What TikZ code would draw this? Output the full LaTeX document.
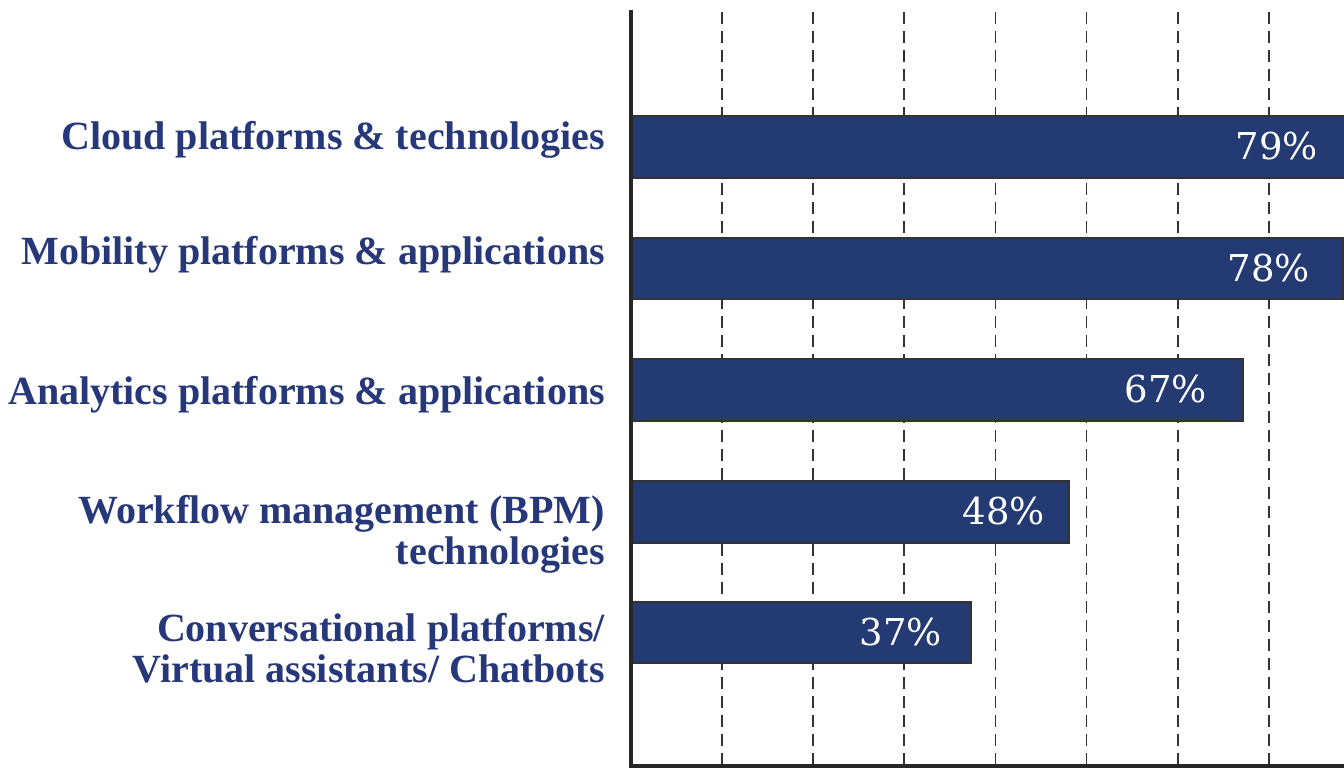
\documentclass[tikz,border=0pt]{standalone}
\usepackage{fontspec}
\setmainfont{Liberation Serif}
\newfontfamily\pctfont{DejaVu Serif}
\begin{document}
\begin{tikzpicture}[x=1pt,y=-1pt,
  barbox/.style={fill=barblue,draw=black!80,line width=1.6pt,inner sep=0pt,anchor=north west},
  catlabel/.style={anchor=east,inner sep=0pt,align=right,text=txtblue,font=\fontsize{40}{41}\selectfont\bfseries},
  pctlabel/.style={anchor=east,inner sep=0pt,text=white,font=\fontsize{37}{38}\pctfont},
  gridline/.style={black!80,line width=1.8pt,dash pattern=on 12pt off 7pt},
  axisline/.style={black!85,line width=4.5pt}]
\definecolor{barblue}{HTML}{243A72}
\definecolor{txtblue}{HTML}{27387A}
\useasboundingbox (0,0) rectangle (1344,770);
\begin{scope}
\clip (0,0) rectangle (1344,770);
% grid
\foreach \k in {1,...,7}{
  \draw[gridline] ({631+91.1*\k},12) -- ({631+91.1*\k},764);
}
% bars
\node[barbox,minimum width=721pt,minimum height=62pt] (b1) at (631,115) {};
\node[barbox,minimum width=711pt,minimum height=61pt] (b2) at (631,237) {};
\node[barbox,minimum width=611pt,minimum height=62pt] (b3) at (631,358) {};
\node[barbox,minimum width=437pt,minimum height=62pt] (b4) at (631,480) {};
\node[barbox,minimum width=339pt,minimum height=61pt] (b5) at (631,601) {};
% axes
\coordinate (top) at (631,10);
\coordinate (origin) at (631,766);
\coordinate (right) at (1344,766);
\draw[axisline] (top) -- (631,768);
\draw[axisline] ([xshift=-2pt]origin) -- (right);
\end{scope}
% percentages
\node[pctlabel] (p1) at (1318,146) {79\%};
\node[pctlabel] (p2) at (1310,268) {78\%};
\node[pctlabel] (p3) at (1207,389) {67\%};
\node[pctlabel] (p4) at (1045,511) {48\%};
\node[pctlabel] (p5) at (942,632) {37\%};
% category labels
\node[catlabel] (c1) at (605,140) {Cloud platforms \& technologies};
\node[catlabel] (c2) at (605,255) {Mobility platforms \& applications};
\node[catlabel] (c3) at (605,395) {Analytics platforms \& applications};
\node[catlabel] (c4) at (605,534) {Workflow management (BPM)\\technologies};
\node[catlabel] (c5) at (605,648) {Conversational platforms/\hspace{10pt}\\Virtual assistants/ Chatbots};
\end{tikzpicture}
\end{document}
